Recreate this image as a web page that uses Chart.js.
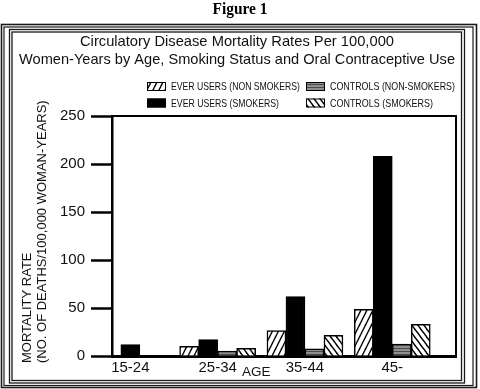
<!DOCTYPE html>
<html><head><meta charset="utf-8">
<style>html,body{margin:0;padding:0;background:#fff;}#wrap{width:480px;height:389px;}</style>
<script src="https://cdn.jsdelivr.net/npm/chart.js@4/dist/chart.umd.min.js"></script>
</head><body><div id="wrap"><canvas id="c" width="480" height="389"></canvas></div>
<script>
// ---- data ----
const categories = ['15-24', '25-34', '35-44', '45-'];
const everUsersNonSmokers = [null, 10, 26.5, 48.5];
const everUsersSmokers = [12, 17, 62, 208];
const controlsNonSmokers = [null, 5, 7.5, 12.5];
const controlsSmokers = [null, 8, 21.5, 33];
const seriesNames = ['EVER USERS (NON SMOKERS)', 'EVER USERS (SMOKERS)', 'CONTROLS (NON-SMOKERS)', 'CONTROLS (SMOKERS)'];
const yTickValues = [0, 50, 100, 150, 200, 250];
const figureLabel = 'Figure 1';
const titleLines = ['Circulatory Disease Mortality Rates Per 100,000', 'Women-Years by Age, Smoking Status and Oral Contraceptive Use'];
const yTitleLines = ['MORTALITY RATE', '(NO. OF DEATHS/100,000 WOMAN-YEARS)'];
const xTitle = 'AGE';

// ---- patterns ----
function hatchFwd() {
  const w = 6, h = 12;
  const c = document.createElement('canvas'); c.width = w; c.height = h;
  const g = c.getContext('2d');
  g.fillStyle = '#fff'; g.fillRect(0, 0, w, h);
  g.strokeStyle = '#000'; g.lineWidth = 1.4;
  for (const off of [-w, 0, w]) { g.beginPath(); g.moveTo(off - 1, h + 2); g.lineTo(off + w + 1, -2); g.stroke(); }
  return g.createPattern(c, 'repeat');
}
function hatchBack() {
  const w = 6, h = 8;
  const c = document.createElement('canvas'); c.width = w; c.height = h;
  const g = c.getContext('2d');
  g.fillStyle = '#fff'; g.fillRect(0, 0, w, h);
  g.strokeStyle = '#000'; g.lineWidth = 1.4;
  for (const off of [-w, 0, w]) { g.beginPath(); g.moveTo(off - 1.5, -2); g.lineTo(off + w + 1.5, h + 2); g.stroke(); }
  return g.createPattern(c, 'repeat');
}
function grayStripes() {
  const c = document.createElement('canvas'); c.width = 2; c.height = 3;
  const g = c.getContext('2d');
  g.fillStyle = '#8e8e8e'; g.fillRect(0, 0, 2, 3);
  g.fillStyle = '#4a4a4a'; g.fillRect(0, 0, 2, 1);
  return g.createPattern(c, 'repeat');
}
const fills = [hatchFwd(), '#000', grayStripes(), hatchBack()];
const seriesValues = [everUsersNonSmokers, everUsersSmokers, controlsNonSmokers, controlsSmokers];

const datasets = seriesValues.map((vals, k) => ({
  label: seriesNames[k],
  data: vals.map((v, i) => ({x: i, y: v})),
  backgroundColor: fills[k],
  borderColor: '#000',
  borderWidth: 1.5,
  barThickness: 19,
  skipNull: true
}));

// ---- decorations plugin ----
const deco = {
  id: 'deco',
  beforeDraw(chart) {
    const ctx = chart.ctx;
    ctx.save();
    ctx.fillStyle = '#fff'; ctx.fillRect(0, 0, chart.width, chart.height);
    ctx.strokeStyle = '#1a1a1a';
    const rects = [[1.5, 24.5, 476.5, 387.5, 1.6], [4, 27, 473, 385.5, 1.2], [9.5, 29.5, 464.5, 383, 1.3], [12, 32, 461.5, 380.5, 1.3]];
    for (const [l, t, r, b, w] of rects) { ctx.lineWidth = w; ctx.strokeRect(l, t, r - l, b - t); }
    ctx.restore();
  },
  afterDraw(chart) {
    const ctx = chart.ctx, a = chart.chartArea;
    ctx.save();
    // plot box top/right
    ctx.strokeStyle = '#000'; ctx.lineWidth = 2;
    ctx.beginPath(); ctx.moveTo(a.left, a.top); ctx.lineTo(a.right, a.top); ctx.lineTo(a.right, a.bottom); ctx.stroke();
    ctx.fillStyle = '#000';
    ctx.textAlign = 'center'; ctx.textBaseline = 'middle';
    ctx.font = 'bold 17px "Liberation Serif"';
    ctx.fillText(figureLabel, 240, 10, 55);
    ctx.font = '15px "Liberation Sans"';
    ctx.fillStyle = '#111';
    ctx.fillText(titleLines[0], 237, 42, 314);
    ctx.fillText(titleLines[1], 237, 60, 436);
    // legend
    const order = [0, 2, 1, 3];
    const cols = [147, 306], rows = [86.5, 103];
    const widths = [129, 125, 108, 103];
    ctx.textAlign = 'left';
    ctx.font = '11.5px "Liberation Sans"';
    order.forEach((di, n) => {
      const x = cols[n % 2], y = rows[Math.floor(n / 2)];
      const ds = chart.data.datasets[di];
      ctx.fillStyle = ds.backgroundColor;
      ctx.fillRect(x, y - 4.5, 19, 9);
      ctx.lineWidth = 1; ctx.strokeStyle = '#000';
      ctx.strokeRect(x + 0.5, y - 4, 18, 8);
      ctx.fillStyle = '#111';
      ctx.fillText(ds.label, x + 24, y + 0.5, widths[n]);
    });
    // y title
    ctx.save();
    ctx.font = '13px "Liberation Sans"';
    ctx.translate(27, 363); ctx.rotate(-Math.PI / 2);
    ctx.textAlign = 'left';
    ctx.fillText(yTitleLines[0], 0, 0);
    ctx.fillText(yTitleLines[1], 0, 15);
    ctx.restore();
    // x title
    const xs = chart.scales.x;
    ctx.font = '13.5px "Liberation Sans"'; ctx.textAlign = 'center';
    ctx.fillText(xTitle, (xs.getPixelForValue(1) + xs.getPixelForValue(2)) / 2 - 5, 372);
    ctx.restore();
  }
};

new Chart(document.getElementById('c'), {
  type: 'bar',
  data: {datasets},
  options: {
    responsive: false,
    animation: false,
    devicePixelRatio: 1,
    layout: {padding: {left: 12, right: 24, top: 116, bottom: 0}},
    plugins: {legend: {display: false}, title: {display: false}, tooltip: {enabled: false}},
    scales: {
      x: {
        type: 'linear', min: -0.21, max: 3.73, offset: false,
        grid: {display: false, drawTicks: false},
        border: {display: true, color: '#000', width: 3},
        ticks: {
          stepSize: 1, includeBounds: false, autoSkip: false, maxRotation: 0, padding: 3,
          color: '#111', font: {family: 'Liberation Sans', size: 15},
          callback: v => Number.isInteger(v) ? categories[v] : ''
        },
        afterFit: s => { s.height = 33; }
      },
      y: {
        min: 0, max: 250,
        afterBuildTicks: s => { s.ticks = yTickValues.map(v => ({value: v})); },
        grid: {display: true, drawOnChartArea: false, drawTicks: true, tickLength: 21, tickWidth: 2.5, tickColor: '#000'},
        border: {display: true, color: '#000', width: 2.5},
        ticks: {padding: 6, color: '#111', font: {family: 'Liberation Sans', size: 15}},
        afterFit: s => { s.width = 100; }
      }
    }
  },
  plugins: [deco]
});
</script>
</body></html>
